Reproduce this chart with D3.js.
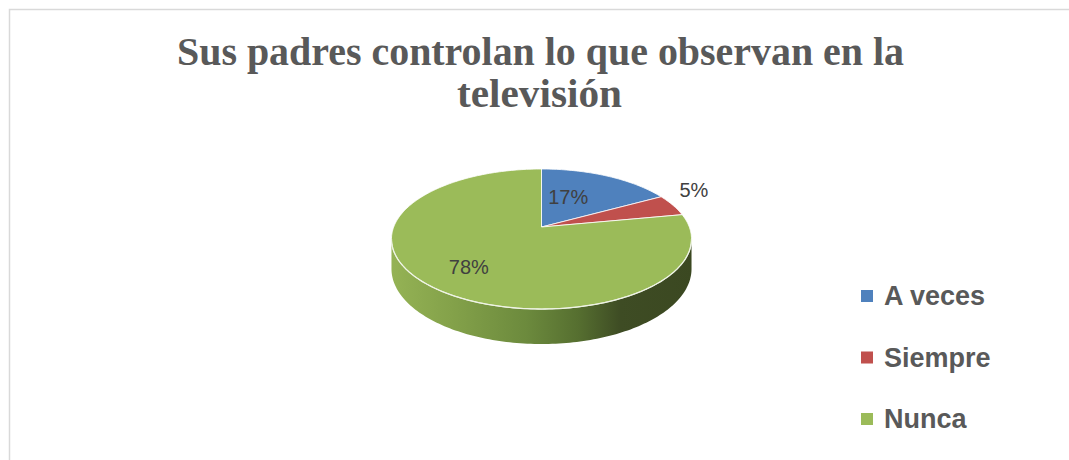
<!DOCTYPE html>
<html><head><meta charset="utf-8">
<script src="https://cdn.jsdelivr.net/npm/d3@7"></script>
<style>html,body{margin:0;padding:0;background:#fff;overflow:hidden}</style>
</head><body>
<svg id="c" width="1069" height="460"></svg>
<script>
const titleLines = ["Sus padres controlan lo que observan en la", "televisión"];
const categories = ["A veces", "Siempre", "Nunca"];
const values = [17, 5, 78];
const labels = ["17%", "5%", "78%"];
const colors = ["#4f81bd", "#c0504d", "#9bbb59"];

const svg = d3.select("#c");
const W = 1069, H = 460;
svg.append("rect").attr("x", 9.5).attr("y", 9.5).attr("width", W + 10).attr("height", H + 10)
  .attr("fill", "#fff").attr("stroke", "#d9d9d9").attr("stroke-width", 1.5);

// Title
const tg = svg.append("g").attr("fill", "#595959")
  .style("font-family", "'Liberation Serif', 'DejaVu Serif', serif").style("font-weight", "bold")
  .style("font-size", "41px");
tg.append("text").attr("x", 177).attr("y", 65)
  .attr("textLength", 727).attr("lengthAdjust", "spacingAndGlyphs").text(titleLines[0]);
tg.append("text").attr("x", 457).attr("y", 107)
  .attr("textLength", 165).attr("lengthAdjust", "spacingAndGlyphs").text(titleLines[1]);

// 3D pie with perspective
const cx = 541.5, cy = 227;
const a = 0.1716, sx = 147.8, sy = 67.95, depth = 29;
const scaleAng = d3.scaleLinear().domain([0, 2 * Math.PI]).range([0, 2 * Math.PI]);
function proj(alpha, r, dz) {
  const X = r * Math.sin(alpha), Y = r * Math.cos(alpha);
  const w = 1 + a * Y;
  return [cx + sx * X / w, cy - sy * Y / w + (dz || 0) / w];
}
const pie = d3.pie().sort(null).value(d => d).startAngle(0).endAngle(2 * Math.PI);
const arcs = pie(values);
const line = d3.line();

function arcPts(a0, a1, dz, n) {
  const pts = [];
  const N = n || Math.max(8, Math.ceil((a1 - a0) / 0.02));
  for (let i = 0; i <= N; i++) pts.push(proj(scaleAng(a0 + (a1 - a0) * i / N), 1, dz));
  return pts;
}

// side wall (front visible part)
const aL = Math.acos(-a), aR = 2 * Math.PI - Math.acos(-a);
const defs = svg.append("defs");
const grad = defs.append("linearGradient").attr("id", "sideGrad")
  .attr("gradientUnits", "userSpaceOnUse")
  .attr("x1", cx - 152).attr("y1", 0).attr("x2", cx + 152).attr("y2", 0);
[[0, "#95b355"], [0.2, "#84a24a"], [0.45, "#6c8a3d"], [0.62, "#566f30"], [0.76, "#3e4c24"], [1, "#3b4821"]]
  .forEach(([o, c]) => grad.append("stop").attr("offset", o).attr("stop-color", c));

arcs.forEach((d, i) => {
  const s = Math.max(d.startAngle, aL), e = Math.min(d.endAngle, aR);
  if (e > s) {
    const top = arcPts(s, e, 0);
    const bot = arcPts(s, e, depth).reverse();
    svg.append("path").attr("d", line(top.concat(bot)) + "Z")
      .attr("fill", i === 2 ? "url(#sideGrad)" : colors[i]);
  }
});

// top faces
arcs.forEach((d, i) => {
  const pts = [proj(0, 0)].concat(arcPts(d.startAngle, d.endAngle, 0));
  svg.append("path").attr("d", line(pts) + "Z")
    .attr("fill", colors[i]).attr("stroke", "#ffffff").attr("stroke-width", 0.8)
    .attr("stroke-linejoin", "round");
});
// front highlight edge
svg.append("path").attr("d", line(arcPts(aL, aR, 0))).attr("fill", "none")
  .attr("stroke", "#eef3e4").attr("stroke-width", 1.3);

// data labels
const lg = svg.append("g").attr("fill", "#404040")
  .style("font-family", "'Liberation Sans', Arial, sans-serif").style("font-size", "20px");
arcs.forEach((d, i) => {
  const mid = (d.startAngle + d.endAngle) / 2;
  const frac = values[i] / d3.sum(values);
  let p;
  if (frac < 0.1) { p = proj(mid, 1.17, 0); p[1] -= 12; }
  else if (frac > 0.5) p = proj(mid, 0.7, 0);
  else { p = proj(mid, 0.45, 0); p[1] -= 5; p[0] -= 5; }
  lg.append("text").attr("x", p[0]).attr("y", p[1]).attr("text-anchor", "middle")
    .attr("dy", "0.35em").text(labels[i]);
});

// legend
const ly = d3.scalePoint().domain(categories).range([296, 419]);
const leg = svg.append("g");
categories.forEach((c, i) => {
  leg.append("rect").attr("x", 861).attr("y", ly(c) - 6).attr("width", 12).attr("height", 12).attr("fill", colors[i]);
  leg.append("text").attr("x", 884).attr("y", ly(c) + 9).attr("fill", "#595959")
    .style("font-family", "'Liberation Sans', Arial, sans-serif").style("font-weight", "bold")
    .style("font-size", "27px").text(c);
});
</script>
</body></html>
